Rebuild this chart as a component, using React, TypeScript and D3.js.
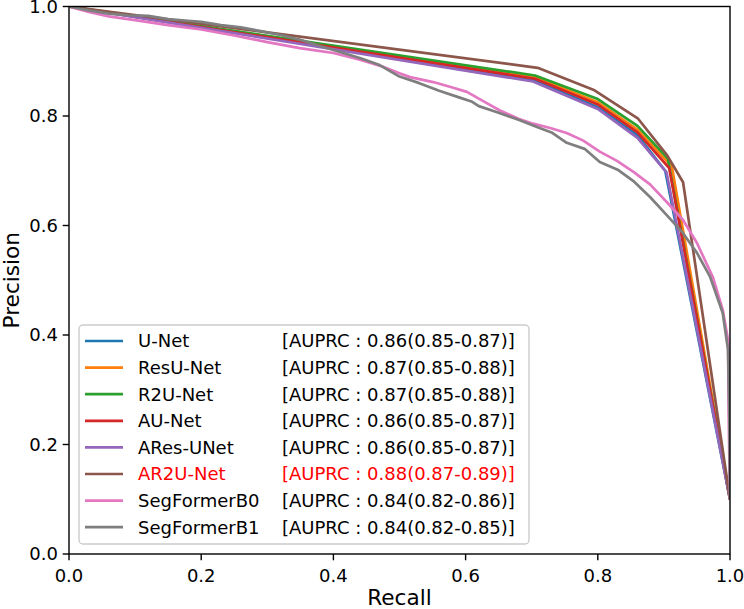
import React from 'react';
import * as d3 from 'd3';

type PR = [number, number][];

// recall / precision pairs per model
const unetPR: PR = [[0, 1], [0.702, 0.866], [0.8, 0.816], [0.86, 0.765], [0.902, 0.7], [1.0, 0.1]];
const resunetPR: PR = [[0, 1], [0.705, 0.871], [0.8, 0.825], [0.86, 0.775], [0.912, 0.708], [1.0, 0.1]];
const r2unetPR: PR = [[0, 1], [0.705, 0.874], [0.8, 0.831], [0.86, 0.782], [0.906, 0.722], [1.0, 0.1]];
const aunetPR: PR = [[0, 1], [0.705, 0.868], [0.8, 0.821], [0.86, 0.77], [0.908, 0.705], [1.0, 0.1]];
const aresunetPR: PR = [[0, 1], [0.702, 0.863], [0.8, 0.813], [0.86, 0.76], [0.904, 0.697], [1.0, 0.1]];
const ar2unetPR: PR = [[0, 1], [0.709, 0.888], [0.795, 0.847], [0.861, 0.795], [0.905, 0.728], [0.929, 0.679], [1.0, 0.1]];
const segB0PR: PR = [
  [0, 1], [0.03, 0.99], [0.06, 0.982], [0.1, 0.975], [0.15, 0.966], [0.2, 0.958], [0.25, 0.947],
  [0.3, 0.935], [0.349, 0.924], [0.4, 0.915], [0.44, 0.903], [0.475, 0.89], [0.5, 0.878],
  [0.516, 0.871], [0.551, 0.862], [0.58, 0.852], [0.602, 0.844], [0.63, 0.825], [0.652, 0.81],
  [0.68, 0.795], [0.702, 0.786], [0.728, 0.778], [0.753, 0.769], [0.778, 0.755], [0.803, 0.735],
  [0.829, 0.718], [0.855, 0.697], [0.879, 0.675], [0.905, 0.642], [0.929, 0.61], [0.95, 0.568],
  [0.974, 0.506], [0.989, 0.446], [0.997, 0.391], [0.998, 0.25], [1.0, 0.1],
];
const segB1PR: PR = [
  [0, 1], [0.03, 0.993], [0.06, 0.987], [0.09, 0.984], [0.12, 0.983], [0.15, 0.977], [0.18, 0.974],
  [0.2, 0.972], [0.23, 0.966], [0.26, 0.962], [0.29, 0.955], [0.32, 0.948], [0.35, 0.939],
  [0.38, 0.928], [0.41, 0.917], [0.44, 0.906], [0.47, 0.893], [0.5, 0.872], [0.53, 0.86],
  [0.56, 0.846], [0.59, 0.834], [0.61, 0.826], [0.62, 0.818], [0.65, 0.806], [0.68, 0.793],
  [0.71, 0.779], [0.73, 0.77], [0.753, 0.751], [0.78, 0.74], [0.803, 0.716], [0.83, 0.702],
  [0.855, 0.68], [0.879, 0.652], [0.905, 0.618], [0.929, 0.586], [0.95, 0.55], [0.97, 0.506],
  [0.989, 0.44], [0.997, 0.373], [0.999, 0.25], [1.0, 0.1],
];

const models = ['U-Net', 'ResU-Net', 'R2U-Net', 'AU-Net', 'ARes-UNet', 'AR2U-Net', 'SegFormerB0', 'SegFormerB1'];
const auprcLabels = [
  '[AUPRC : 0.86(0.85-0.87)]',
  '[AUPRC : 0.87(0.85-0.88)]',
  '[AUPRC : 0.87(0.85-0.88)]',
  '[AUPRC : 0.86(0.85-0.87)]',
  '[AUPRC : 0.86(0.85-0.87)]',
  '[AUPRC : 0.88(0.87-0.89)]',
  '[AUPRC : 0.84(0.82-0.86)]',
  '[AUPRC : 0.84(0.82-0.85)]',
];
const curves = [unetPR, resunetPR, r2unetPR, aunetPR, aresunetPR, ar2unetPR, segB0PR, segB1PR];
const colors = ['#1f77b4', '#ff7f0e', '#2ca02c', '#d62728', '#9467bd', '#8c564b', '#e377c2', '#7f7f7f'];
const highlighted = 'AR2U-Net';
const ticks = [0, 0.2, 0.4, 0.6, 0.8, 1.0];

const W = 744;
const H = 609;
const left = 69, right = 730, top = 6.5, bottom = 554;
const font = 'DejaVu Sans, sans-serif';

const App: React.FC = () => {
  const x = d3.scaleLinear().domain([0, 1]).range([left, right]);
  const y = d3.scaleLinear().domain([0, 1]).range([bottom, top]);
  const line = d3.line<[number, number]>().x(d => x(d[0])).y(d => y(d[1]));

  const legX = 79, legY = 325, legW = 450, legH = 219;
  const rowY0 = 341, rowStep = 26.6;

  return (
    <svg width={W} height={H} style={{ position: 'absolute', left: 0, top: 0 }} fontFamily={font}>
      <rect width={W} height={H} fill="#fff" />
      <defs>
        <clipPath id="plot">
          <rect x={left} y={top} width={right - left} height={bottom - top} />
        </clipPath>
      </defs>

      <g clipPath="url(#plot)">
        {curves.map((c, i) => (
          <path key={models[i]} d={line(c) ?? ''} fill="none" stroke={colors[i]} strokeWidth={2.7} strokeLinejoin="round" />
        ))}
      </g>

      {/* frame */}
      <rect x={left} y={top} width={right - left} height={bottom - top} fill="none" stroke="#000" strokeWidth={1.4} />

      {/* x ticks */}
      {ticks.map(t => (
        <g key={'x' + t}>
          <line x1={x(t)} x2={x(t)} y1={bottom} y2={bottom + 6.3} stroke="#000" strokeWidth={1.4} />
          <text x={x(t)} y={582} textAnchor="middle" fontSize={18} fill="#000">{t.toFixed(1)}</text>
        </g>
      ))}
      {/* y ticks */}
      {ticks.map(t => (
        <g key={'y' + t}>
          <line x1={left - 6.3} x2={left} y1={y(t)} y2={y(t)} stroke="#000" strokeWidth={1.4} />
          <text x={58} y={y(t)} dy="0.36em" textAnchor="end" fontSize={18} fill="#000">{t.toFixed(1)}</text>
        </g>
      ))}

      <text x={(left + right) / 2} y={605} textAnchor="middle" fontSize={21.6} fill="#000">Recall</text>
      <text transform={`translate(19,${(top + bottom) / 2}) rotate(-90)`} textAnchor="middle" fontSize={21.6} fill="#000">Precision</text>

      {/* legend */}
      <rect x={legX} y={legY} width={legW} height={legH} rx={4} fill="#fff" fillOpacity={0.8} stroke="#cccccc" strokeWidth={1.4} />
      {models.map((m, i) => {
        const ry = rowY0 + i * rowStep;
        const tc = m === highlighted ? '#ff0000' : '#000';
        return (
          <g key={'leg' + m}>
            <line x1={85} x2={123} y1={ry} y2={ry} stroke={colors[i]} strokeWidth={2.7} />
            <text x={138} y={ry} dy="0.36em" fontSize={18} fill={tc}>{m}</text>
            <text x={282} y={ry} dy="0.36em" fontSize={18} fill={tc}>{auprcLabels[i]}</text>
          </g>
        );
      })}
    </svg>
  );
};

export default App;
